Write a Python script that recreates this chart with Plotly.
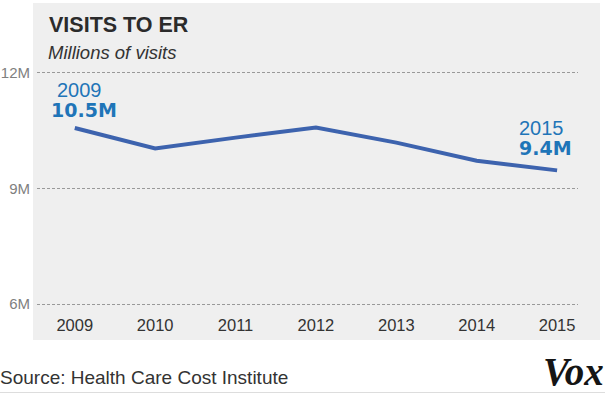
import plotly.graph_objects as go

years = [2009, 2010, 2011, 2012, 2013, 2014, 2015]
visits = [10.57, 10.04, 10.32, 10.58, 10.19, 9.72, 9.47]
y_ticks = [6, 9, 12]
y_tick_labels = ["6M", "9M", "12M"]

fig = go.Figure()
fig.add_trace(go.Scatter(
    x=years, y=visits, mode="lines",
    line=dict(color="#3d63ae", width=4),
    hoverinfo="skip", showlegend=False,
))

L, R, T, B = 37, 27, 69, 87
W, H = 605, 395
pw, ph = W - L - R, H - T - B

def px2x(px):
    return (px - L) / pw

def py2y(py):
    return (H - B - py) / ph

fig.add_shape(type="rect", xref="paper", yref="paper",
              x0=px2x(33), x1=px2x(600), y0=py2y(340), y1=py2y(3),
              fillcolor="#efefef", line_width=0, layer="below")
fig.add_shape(type="line", xref="paper", yref="paper",
              x0=px2x(0), x1=px2x(605), y0=py2y(392.5), y1=py2y(392.5),
              line=dict(color="#dddddd", width=1))

blue = "#1f75b8"
reg = dict(family="Arial, Liberation Sans", size=20, color=blue)
bold = dict(family="DejaVu Sans, Arial", size=19, color=blue)

fig.add_annotation(x=years[0], y=visits[0], text="2009", showarrow=False,
                   xanchor="center", yanchor="middle", xshift=5, yshift=38, font=reg)
fig.add_annotation(x=years[0], y=visits[0], text="<b>10.5M</b>", showarrow=False,
                   xanchor="center", yanchor="middle", xshift=9.5, yshift=18, font=bold)
fig.add_annotation(x=years[-1], y=visits[-1], text="2015", showarrow=False,
                   xanchor="center", yanchor="middle", xshift=-16, yshift=42, font=reg)
fig.add_annotation(x=years[-1], y=visits[-1], text="<b>9.4M</b>", showarrow=False,
                   xanchor="center", yanchor="middle", xshift=-11.5, yshift=22, font=bold)

fig.add_annotation(xref="paper", yref="paper", x=px2x(47), y=py2y(25.5),
                   text="<b>VISITS TO ER</b>", showarrow=False,
                   xanchor="left", yanchor="middle",
                   font=dict(family="Arial, Liberation Sans", size=21.5, color="#2b2b2b"))
fig.add_annotation(xref="paper", yref="paper", x=px2x(46), y=py2y(52),
                   text="<i>Millions of visits</i>", showarrow=False,
                   xanchor="left", yanchor="middle",
                   font=dict(family="Arial, Liberation Sans", size=18.5, color="#333333"))

fig.add_annotation(xref="paper", yref="paper", x=px2x(-2), y=py2y(377),
                   text="Source: Health Care Cost Institute", showarrow=False,
                   xanchor="left", yanchor="middle",
                   font=dict(family="Arial, Liberation Sans", size=19, color="#333333"))
fig.add_annotation(xref="paper", yref="paper", x=px2x(606), y=py2y(371),
                   text="<b><i>Vox</i></b>", showarrow=False,
                   xanchor="right", yanchor="middle",
                   font=dict(family="Liberation Serif, Times New Roman", size=39, color="#151515"))

fig.update_layout(
    width=W, height=H,
    margin=dict(l=L, r=R, t=T, b=B, autoexpand=False),
    paper_bgcolor="white", plot_bgcolor="rgba(0,0,0,0)",
    xaxis=dict(range=[2008.53, 2015.26], tickvals=years,
               ticktext=[str(y) for y in years],
               showgrid=False, zeroline=False, showline=False, automargin=False,
               ticks="", ticklabelstandoff=5,
               tickfont=dict(family="Arial, Liberation Sans", size=16.5, color="#333333"),
               fixedrange=True),
    yaxis=dict(range=[5.9, 12.1], tickvals=y_ticks, ticktext=y_tick_labels,
               showgrid=True, gridcolor="#999999", griddash="3px,2px", gridwidth=1,
               zeroline=False, showline=False, ticks="", ticklabelstandoff=6,
               automargin=False,
               tickfont=dict(family="Arial, Liberation Sans", size=15, color="#808080"),
               fixedrange=True),
)

fig.write_html("out.html", config={"displayModeBar": False},
               post_script="document.body.style.margin='0';")
